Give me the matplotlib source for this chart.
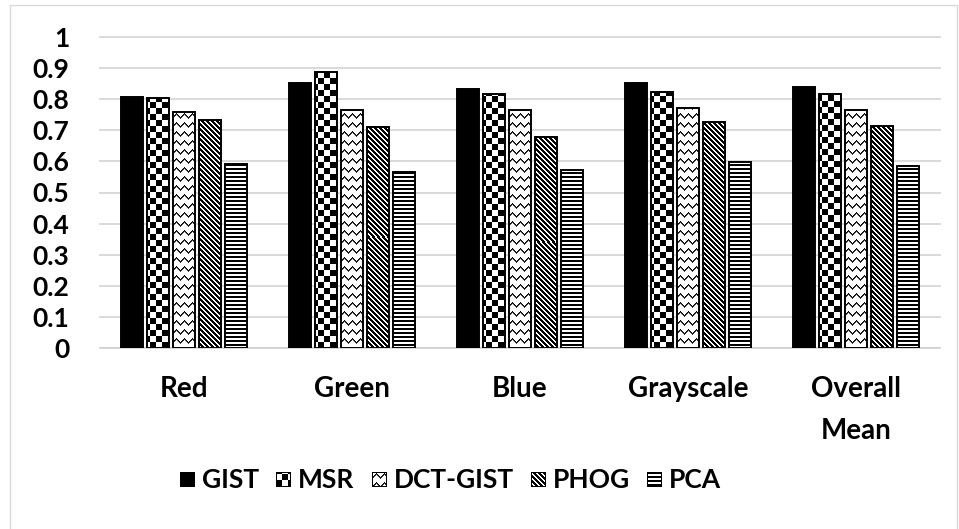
import numpy as np
import matplotlib
matplotlib.use("Agg")
import matplotlib.pyplot as plt
from matplotlib.patches import Rectangle
from matplotlib.transforms import IdentityTransform

# ---- data -------------------------------------------------------------
categories = ["Red", "Green", "Blue", "Grayscale", "Overall\nMean"]
methods = ["GIST", "MSR", "DCT-GIST", "PHOG", "PCA"]
gist = [0.808, 0.853, 0.833, 0.853, 0.839]
msr = [0.803, 0.886, 0.816, 0.822, 0.817]
dct_gist = [0.758, 0.764, 0.764, 0.771, 0.764]
phog = [0.732, 0.712, 0.680, 0.726, 0.713]
pca = [0.591, 0.565, 0.572, 0.598, 0.584]
y_ticks = [0.0, 0.1, 0.2, 0.3, 0.4, 0.5, 0.6, 0.7, 0.8, 0.9, 1.0]
y_tick_labels = ["0", "0.1", "0.2", "0.3", "0.4", "0.5", "0.6", "0.7", "0.8", "0.9", "1"]

series = [gist, msr, dct_gist, phog, pca]
fills = ["solid", "checker", "zigzag", "diagonal", "hlines"]

# ---- fonts ------------------------------------------------------------
plt.rcParams["font.family"] = ["Lato", "DejaVu Sans"]
plt.rcParams["font.weight"] = "bold"

W, H, DPI = 959, 529, 100
fig = plt.figure(figsize=(W / DPI, H / DPI), dpi=DPI)
fig.patch.set_facecolor("white")

# plot area in pixels: x 100..940, y (from top) 37..348
ax = fig.add_axes([100 / W, (H - 348) / H, 840 / W, 311 / H])


def texture(kind, X, Y):
    """Monochrome fill pattern as a function of absolute pixel coords."""
    if kind == "solid":
        return np.zeros(X.shape)
    if kind == "checker":
        black = ((X // 6 + Y // 6) % 2) == 0
        return np.where(black, 0.0, 1.0)
    if kind == "zigzag":
        tri = np.abs((X % 8) - 4)
        d = (Y + tri) % 9
        out = np.ones(X.shape)
        out[d == 0] = 0.0
        out[d == 1] = 0.25
        return out
    if kind == "diagonal":
        black = ((X - Y) % 5) < 2.5
        return np.where(black, 0.0, 1.0)
    if kind == "hlines":
        black = (Y % 4) < 2
        return np.where(black, 0.0, 1.0)
    return np.ones(X.shape)


n_series = len(series)
step = 26 / 168
width = 21.5 / 168
x = np.arange(len(categories))

ax.set_xlim(-0.5, len(categories) - 0.5)
ax.set_ylim(0, 1)

for k, (vals, kind) in enumerate(zip(series, fills)):
    pos = x + (k - (n_series - 1) / 2) * step
    face = "black" if kind == "solid" else "none"
    bars = ax.bar(pos, vals, width, facecolor=face, edgecolor="black",
                  linewidth=1.4, zorder=3, label=methods[k])
    if kind == "solid":
        continue
    for rect in bars:
        x0, x1 = rect.get_x(), rect.get_x() + rect.get_width()
        y1 = rect.get_height()
        (px0, py0), (px1, py1) = ax.transData.transform([(x0, 0), (x1, y1)])
        ncols = max(int(round(px1 - px0)), 1)
        nrows = max(int(round(py1 - py0)), 1)
        top = int(round(H - py1))
        left = int(round(px0))
        XX, YY = np.meshgrid(np.arange(left, left + ncols),
                             np.arange(top, top + nrows))
        arr = texture(kind, XX, YY)
        ax.imshow(arr, extent=(x0, x1, 0, y1), cmap="gray", vmin=0, vmax=1,
                  interpolation="nearest", aspect="auto", zorder=2)

ax.set_xlim(-0.5, len(categories) - 0.5)
ax.set_ylim(0, 1)

# axes styling
for s in ax.spines.values():
    s.set_visible(False)
ax.set_yticks(y_ticks, y_tick_labels)
ax.set_xticks(x, categories)
ax.tick_params(axis="y", length=0, pad=22, labelsize=19)
ax.tick_params(axis="x", length=0, pad=20, labelsize=20)
for lbl in ax.get_xticklabels():
    lbl.set_linespacing(1.75)
ax.grid(axis="y", color="#d9d9d9", linewidth=1.4, zorder=0)
ax.set_axisbelow(True)
for gl in ax.get_ygridlines():
    gl.set_clip_on(False)
ax.axhline(0, color="#d0d0d0", linewidth=1.4, zorder=1)

# chart-area border
fig.patches.append(Rectangle((10, -5), 947, H - 5 + 5, transform=IdentityTransform(),
                             fill=False, edgecolor="#d9d9d9", linewidth=1.0))

# ---- legend (pattern swatches + labels) --------------------------------
renderer = fig.canvas.get_renderer()
sw = 15
gap_txt = 7
gap_item = 17
leg_y = H - 480  # vertical centre in display coords
texts = []
widths = []
for name in methods:
    t = fig.text(0, 0, name, fontsize=19, fontweight="bold", va="center",
                 ha="left", transform=IdentityTransform())
    texts.append(t)
    widths.append(t.get_window_extent(renderer).width)
total = sum(sw + gap_txt + w for w in widths) + gap_item * (len(methods) - 1)
cur = 450.5 - total / 2
for name, kind, t, w in zip(methods, fills, texts, widths):
    left = int(round(cur))
    top = int(round(H - leg_y - sw / 2))
    XX, YY = np.meshgrid(np.arange(left, left + sw), np.arange(top, top + sw))
    arr = texture(kind, XX, YY)
    arr[0, :] = 0
    arr[-1, :] = 0
    arr[:, 0] = 0
    arr[:, -1] = 0
    fig.figimage(arr, xo=left, yo=H - top - sw, cmap="gray", vmin=0, vmax=1,
                 origin="upper", zorder=5)
    t.set_position((cur + sw + gap_txt, leg_y))
    cur += sw + gap_txt + w + gap_item

fig.savefig("out.png", dpi=DPI, facecolor="white")
